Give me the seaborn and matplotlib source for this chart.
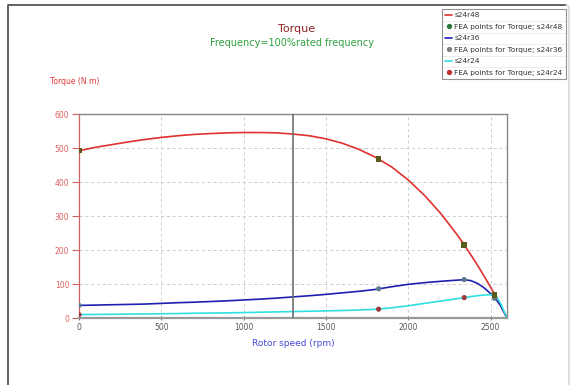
import matplotlib
matplotlib.use("Agg")
import matplotlib.pyplot as plt
import seaborn as sns
import pandas as pd
from matplotlib.lines import Line2D

rpm = [0, 100, 200, 300, 400, 500, 600, 700, 800, 900, 1000, 1100, 1200, 1300,
       1400, 1500, 1600, 1700, 1800, 1900, 2000, 2100, 2200, 2300, 2340, 2380,
       2420, 2460, 2500, 2530, 2560, 2600]
s24r48 = [492, 502, 510, 518, 525, 531, 536, 540, 542.5, 544.5, 545.5, 545.5, 544.5, 541,
          536, 527, 514, 496, 473, 444, 406, 360, 306, 243, 215, 186,
          156, 124, 91, 65, 38, 0]
s24r36 = [37, 38, 39, 40, 41, 43, 45, 46.5, 48.5, 50.5, 53, 55.5, 58.5, 62,
          65.5, 69.5, 74, 78.5, 84, 92, 99, 104, 108, 111.5, 112.5, 110,
          102, 89, 72, 57, 37, 0]
s24r24 = [10, 10.5, 11, 11.5, 12, 12.5, 13, 14, 14.5, 15, 16, 17, 18, 19,
          20, 21, 22, 23.5, 25.5, 30, 36, 43, 50, 57, 60, 63,
          65.5, 67.5, 68.5, 66, 44, 0]

fea_rpm = [0, 1820, 2340, 2525]
fea_r48 = [492, 468, 215, 67]
fea_r36 = [37, 86, 113, 58]
fea_r24 = [10, 26, 60, 64]

xticks = [0, 500, 1000, 1500, 2000, 2500]
yticks = [0, 100, 200, 300, 400, 500, 600]

sns.set_style("white")
plt.rcParams['font.family'] = ['DejaVu Sans']

fig = plt.figure(figsize=(5.71, 3.85), dpi=100)
W, H = 571, 385
ax = fig.add_axes([79 / W, 1 - 318 / H, (507 - 79) / W, (318 - 114) / H])

# figure border: dark left/top, faint right
fig.add_artist(Line2D([8 / W, 8 / W, 566 / W],
                      [-0.1, 1 - 5 / H, 1 - 5 / H],
                      color="#555555", lw=1.3, solid_joinstyle="round",
                      transform=fig.transFigure, zorder=0))
fig.add_artist(Line2D([566 / W, 569 / W, 569 / W],
                      [1 - 5 / H, 1 - 7 / H, -0.1],
                      color="#cfcfcf", lw=1.0,
                      transform=fig.transFigure, zorder=0))

lines_df = pd.DataFrame({
    "rpm": rpm * 3,
    "torque": s24r48 + s24r36 + s24r24,
    "series": ["s24r48"] * len(rpm) + ["s24r36"] * len(rpm) + ["s24r24"] * len(rpm),
})
line_colors = {"s24r48": "#e03030", "s24r36": "#2020b0", "s24r24": "#30e0e0"}
sns.lineplot(data=lines_df, x="rpm", y="torque", hue="series", palette=line_colors,
             ax=ax, linewidth=1.2, legend=False, sort=True)

fea_df = pd.DataFrame({
    "rpm": fea_rpm * 3,
    "torque": fea_r48 + fea_r36 + fea_r24,
    "series": ["r48"] * 4 + ["r36"] * 4 + ["r24"] * 4,
})
sns.scatterplot(data=fea_df[fea_df.series == "r24"], x="rpm", y="torque",
                hue="series", palette={"r24": "#9a3a3a"}, ax=ax, s=14, legend=False,
                edgecolor="none", zorder=5)
sns.scatterplot(data=fea_df[fea_df.series == "r36"], x="rpm", y="torque",
                hue="series", palette={"r36": "#5a7a8a"}, ax=ax, s=14, legend=False,
                edgecolor="none", zorder=5)
sns.scatterplot(data=fea_df[fea_df.series == "r48"], x="rpm", y="torque",
                hue="series", palette={"r48": "#5a5a1e"}, ax=ax, s=16, legend=False,
                edgecolor="none", zorder=5, marker="s")

ax.axvline(1300, color="#707070", linewidth=1.2, zorder=4)

ax.set_xlim(0, 2600)
ax.set_ylim(0, 600)
ax.set_xticks(xticks)
ax.set_yticks(yticks)
ax.set_xticklabels([str(t) for t in xticks], fontsize=5.5, color="#555555")
ax.set_yticklabels([str(t) for t in yticks], fontsize=5.5, color="#e06060")
ax.tick_params(axis="y", length=5, color="#d06060", width=0.8, pad=2, direction="out", left=True)
ax.tick_params(axis="x", length=3, color="#777777", width=0.8, pad=2, direction="inout", bottom=True)
ax.grid(True, linestyle=(0, (3, 3)), color="#cccccc", linewidth=0.7)
ax.set_xlabel("Rotor speed (rpm)", fontsize=6.5, color="#4848d8", labelpad=5)
ax.set_ylabel("")
for side in ["top", "right"]:
    ax.spines[side].set_color("#888888")
    ax.spines[side].set_linewidth(1.0)
ax.spines["left"].set_color("#d06060")
ax.spines["left"].set_linewidth(0.9)
ax.spines["bottom"].set_color("#999999")
ax.spines["bottom"].set_linewidth(1.6)

fig.text(50 / W, 1 - 82 / H, "Torque (N m)", fontsize=5.5, color="#e03838",
         ha="left", va="center")
fig.text(297 / W, 1 - 29 / H, "Torque", fontsize=8, color="#8b2020",
         ha="center", va="center")
fig.text(292 / W, 1 - 43 / H, "Frequency=100%rated frequency", fontsize=7,
         color="#30a040", ha="center", va="center")

labels = ["s24r48", "FEA points for Torque; s24r48", "s24r36",
          "FEA points for Torque; s24r36", "s24r24", "FEA points for Torque; s24r24"]
handles = [
    Line2D([], [], color="#e03030", lw=1.2),
    Line2D([], [], color="#2a7a3a", marker="o", ls="none", markersize=2.8),
    Line2D([], [], color="#2020b0", lw=1.2),
    Line2D([], [], color="#808080", marker="o", ls="none", markersize=2.8),
    Line2D([], [], color="#30e0e0", lw=1.2),
    Line2D([], [], color="#c03030", marker="o", ls="none", markersize=2.8),
]
leg = fig.legend(handles, labels, loc="upper right",
                 bbox_to_anchor=(566 / W, 1 - 9 / H), fontsize=5.3,
                 frameon=True, fancybox=False, edgecolor="#777777",
                 handlelength=1.0, handletextpad=0.3, borderpad=0.45,
                 labelspacing=0.72, borderaxespad=0)
leg.get_frame().set_linewidth(0.8)
for t in leg.get_texts():
    t.set_color("#333333")

# separator lines between legend rows
fig.canvas.draw()
inv = fig.transFigure.inverted()
lb = leg.get_window_extent()
texts = leg.get_texts()
for i in range(len(texts) - 1):
    b1 = texts[i].get_window_extent()
    b2 = texts[i + 1].get_window_extent()
    ymid = (b1.y0 + b2.y1) / 2
    p0 = inv.transform((lb.x0, ymid))
    p1 = inv.transform((lb.x1, ymid))
    fig.add_artist(Line2D([p0[0], p1[0]], [p0[1], p1[1]], color="#999999",
                          lw=0.6, transform=fig.transFigure))

fig.savefig("out.png", dpi=100)
